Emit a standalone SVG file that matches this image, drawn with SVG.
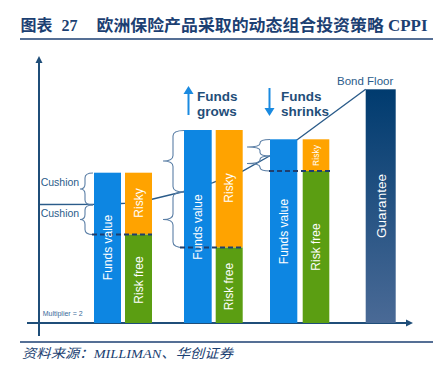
<svg xmlns="http://www.w3.org/2000/svg" width="439" height="374" viewBox="0 0 439 374">
<defs>
<style>
.title{font-family:"Liberation Serif","Noto Sans CJK SC",serif;font-weight:bold;font-size:16px;fill:#1c3f72}
.src{font-family:"Liberation Serif","Noto Sans CJK SC",serif;font-style:italic;font-size:13px;fill:#1c3f72}
.axis{stroke:#1f4e79;stroke-width:2;fill:none}
.brace{stroke:#5b7fa6;stroke-width:1.1;fill:none}
.floor{stroke:#2b5c8a;stroke-width:1.4;fill:none}
.dash{stroke:#1f3e6e;stroke-width:2;stroke-dasharray:5,3;fill:none}
.fv{fill:#0d86e2}
.rk{fill:#ffa300}
.rf{fill:#5b9e12}
.bt{font-family:"Liberation Sans",Arial,sans-serif;font-size:12px;fill:#ffffff;text-anchor:middle;dominant-baseline:central}
.lbl{font-family:"Liberation Sans",Arial,sans-serif;font-size:10.5px;fill:#2b5c8a}
.big{font-family:"Liberation Sans",Arial,sans-serif;font-size:13.5px;font-weight:bold;fill:#1f4e79}
</style>
<linearGradient id="gg" x1="0" y1="0" x2="0" y2="1">
<stop offset="0" stop-color="#003b6f"/>
<stop offset="1" stop-color="#4a6a96"/>
</linearGradient>
</defs>
<rect width="439" height="374" fill="#ffffff"/>
<g id="title">
<text class="title" x="20.5" y="31">图表</text>
<text class="title" x="61.5" y="31">27</text>
<text class="title" x="96.5" y="31" textLength="331" lengthAdjust="spacingAndGlyphs">欧洲保险产品采取的动态组合投资策略 CPPI</text>
<line x1="20" y1="39" x2="433" y2="39" stroke="#1c3f72" stroke-width="1.6"/>
</g>
<g id="connectors">
<polyline class="floor" points="39,204.5 110,204.2 125,203.2 152,199.3 183,191.7 213,182.7 242.7,171 269.5,156 297.5,139.5 365.7,89.3"/>
<path class="brace" d="M93,173 Q85,173 85,178 L85,184 Q85,189 80,189 Q85,189 85,194 L85,200 Q85,205 93,205"/>
<path class="brace" d="M93,205 Q85,205 85,210 L85,214.5 Q85,219.5 80,219.5 Q85,219.5 85,224.5 L85,229.5 Q85,234.5 93,234.5"/>
<path class="brace" d="M184,130.5 Q173,130.5 173,136 L173,155.5 Q173,161 163,161 Q173,161 173,166.5 L173,186.5 Q173,192 184,192"/>
<path class="brace" d="M184,192 Q173,192 173,197.5 L173,214 Q173,219.5 163,219.5 Q173,219.5 173,225 L173,242 Q173,247.5 184,247.5"/>
<path class="brace" d="M270,139.5 Q260,139.5 260,143 L260,143.5 Q260,147 247,147 Q260,147 260,150.5 L260,152.5 Q260,156 270,156"/>
<path class="brace" d="M270,156 Q260,156 260,159.5 L260,160 Q260,163.5 247,163.5 Q260,163.5 260,167 L260,167.5 Q260,171 270,171"/>
</g>
<g id="axes">
<line class="axis" x1="39" y1="62" x2="39" y2="336"/>
<polygon points="39,56 35.5,63 42.5,63" fill="#1f4e79"/>
<line class="axis" x1="27" y1="323" x2="406" y2="323"/>
<polygon points="413,323 406,319.5 406,326.5" fill="#1f4e79"/>
<text x="42.7" y="316" font-family="Liberation Sans,Arial,sans-serif" font-size="7" fill="#3a6a9a">Multiplier = 2</text>
</g>
<g id="bar1">
<rect class="fv" x="94" y="172.7" width="27" height="150.3"/>
<rect class="rk" x="125" y="172.7" width="27" height="61.8"/>
<rect class="rf" x="125" y="234.5" width="27" height="88.5"/>
<line class="dash" x1="92" y1="234.5" x2="152" y2="234.5"/>
<text class="bt" transform="translate(107.5,247.5) rotate(-90)">Funds value</text>
<text class="bt" transform="translate(138.5,203) rotate(-90)">Risky</text>
<text class="bt" transform="translate(138.5,280) rotate(-90)">Risk free</text>
<text class="lbl" x="40.7" y="186">Cushion</text>
<text class="lbl" x="40.7" y="217">Cushion</text>
</g>
<g id="bar2">
<rect class="fv" x="184" y="130" width="27.7" height="193"/>
<rect class="rk" x="215.7" y="130" width="27" height="117.5"/>
<rect class="rf" x="215.7" y="247.5" width="27" height="75.5"/>
<line class="dash" x1="180" y1="247.5" x2="243" y2="247.5"/>
<text class="bt" transform="translate(198,227) rotate(-90)">Funds value</text>
<text class="bt" transform="translate(229.2,188) rotate(-90)">Risky</text>
<text class="bt" transform="translate(229.2,286.5) rotate(-90)">Risk free</text>
</g>
<g id="bar3">
<rect class="fv" x="270" y="139.3" width="27.3" height="183.7"/>
<rect class="rk" x="302.7" y="139.3" width="26.6" height="31.7"/>
<rect class="rf" x="302.7" y="171" width="26.6" height="152"/>
<line class="dash" x1="269" y1="171" x2="330" y2="171"/>
<text class="bt" transform="translate(284,231.5) rotate(-90)">Funds value</text>
<text class="bt" style="font-size:8.5px" transform="translate(316,155.5) rotate(-90)">Risky</text>
<text class="bt" transform="translate(316,247) rotate(-90)">Risk free</text>
</g>
<g id="guarantee">
<rect x="365.7" y="89.3" width="30" height="233.7" fill="url(#gg)"/>
<text class="bt" style="font-size:13.5px" transform="translate(381,206) rotate(-90)">Guarantee</text>
<text x="337" y="85" font-family="Liberation Sans,Arial,sans-serif" font-size="11.5" fill="#2b5c8a">Bond Floor</text>
</g>
<g id="grows">
<line x1="188.5" y1="115" x2="188.5" y2="93" stroke="#1a8ae0" stroke-width="2"/>
<polygon points="188.5,86 183.5,94 193.5,94" fill="#1a8ae0"/>
<text class="big" x="197" y="100.7">Funds</text>
<text class="big" x="197" y="115.5">grows</text>
</g>
<g id="shrinks">
<line x1="269.5" y1="88" x2="269.5" y2="109" stroke="#1a8ae0" stroke-width="2"/>
<polygon points="269.5,116 264.5,108 274.5,108" fill="#1a8ae0"/>
<text class="big" x="281" y="100.7">Funds</text>
<text class="big" x="281" y="115.5">shrinks</text>
</g>
<g id="footer">
<line x1="20" y1="342" x2="433" y2="342" stroke="#1c3f72" stroke-width="1.4"/>
<text class="src" x="22" y="357.5" textLength="211" lengthAdjust="spacingAndGlyphs">资料来源：MILLIMAN、华创证券</text>
</g>
</svg>
